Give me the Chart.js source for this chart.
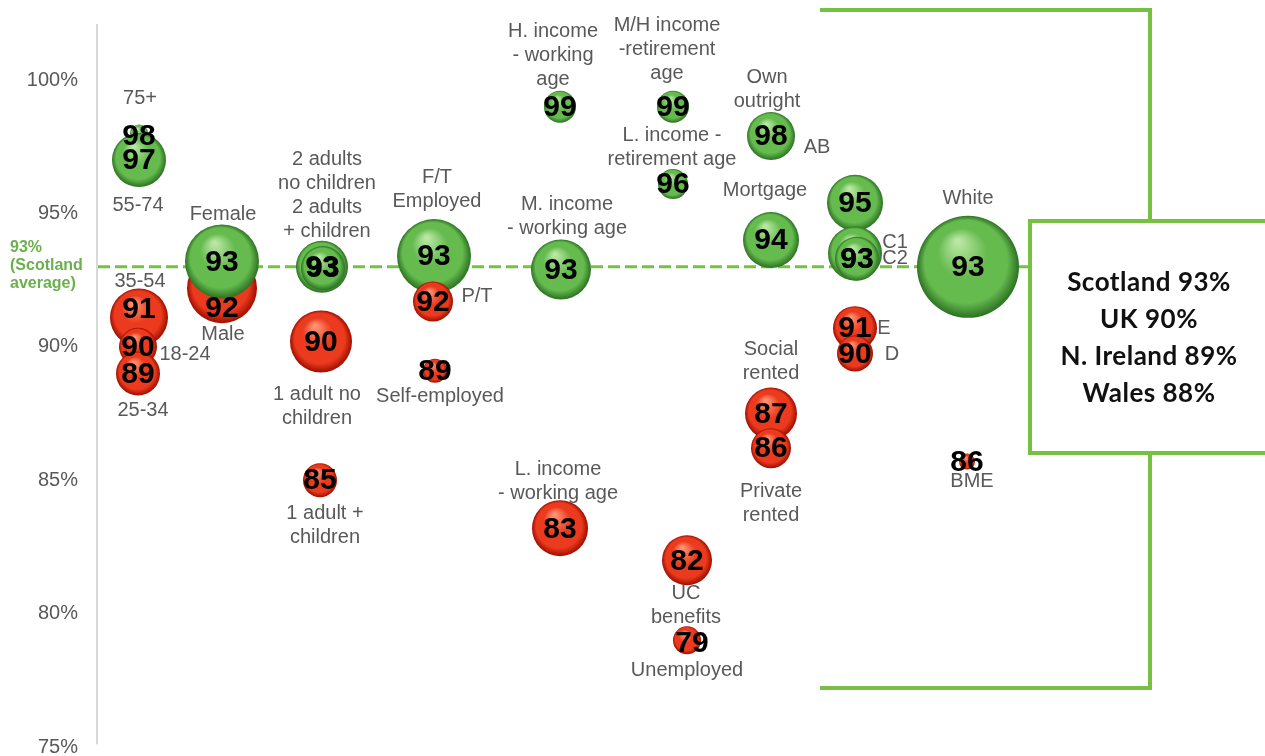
<!DOCTYPE html>
<html>
<head>
<meta charset="utf-8">
<script src="https://cdn.jsdelivr.net/npm/chart.js@4.4.1/dist/chart.umd.min.js"></script>
<style>
  html, body { margin: 0; padding: 0; background: #fff; }
  #wrap { width: 1265px; height: 756px; position: relative; }
</style>
</head>
<body>
<div id="wrap"><canvas id="chart"></canvas></div>
<script>
// values
const scotlandAverage = 93;
const tickValues = [75, 80, 85, 90, 95, 100];

const groups = [
  '75+', '55-74', '35-54', '18-24', '25-34', 'Male', 'Female',
  '2 adults no children', '2 adults + children', '1 adult no children', '1 adult + children',
  'F/T Employed', 'P/T', 'Self-employed',
  'H. income - working age', 'M. income - working age', 'L. income - working age',
  'M/H income -retirement age', 'L. income - retirement age', 'UC benefits', 'Unemployed',
  'Own outright', 'Mortgage', 'Social rented', 'Private rented',
  'AB', 'C1', 'C2', 'E', 'D', 'White', 'BME'
];
// horizontal slot of each bubble
const xPos = [
  0.42, 0.42, 0.42, 0.41, 0.41, 1.25, 1.25,
  2.25, 2.26, 2.24, 2.23,
  3.37, 3.36, 3.38,
  4.63, 4.64, 4.63,
  5.76, 5.76, 5.90, 5.90,
  6.74, 6.74, 6.74, 6.74,
  7.58, 7.58, 7.60, 7.58, 7.58, 8.71, 8.70
];
// where each bubble sits on the % axis
const yPos = [
  98, 97, 91.1, 90, 89, 92.2, 93.2,
  93, 92.95, 90.2, 85,
  93.4, 91.7, 89.1,
  99, 92.9, 83.2,
  99, 96.1, 82, 79,
  97.9, 94, 87.5, 86.2,
  95.4, 93.5, 93.3, 90.7, 89.75, 93, 85.7
];
// bubble size (sample size, px radius)
const sizes = [
  9, 27, 29, 19, 22, 35, 37,
  26, 22, 31, 17,
  37, 20, 12,
  16, 30, 28,
  16, 15, 25, 14,
  24, 28, 26, 20,
  28, 27, 22, 22, 18, 51, 8
];
// printed percentages
const shown = [
  98, 97, 91, 90, 89, 92, 93,
  93, 93, 90, 85,
  93, 92, 89,
  99, 93, 83,
  99, 96, 82, 79,
  98, 94, 87, 86,
  95, 93, 93, 91, 90, 93, 86
];
const pointLabels = [
  ['75+'], ['55-74'], ['35-54'], ['18-24'], ['25-34'], ['Male'], ['Female'],
  ['2 adults', 'no children', '2 adults', '+ children'], [], ['1 adult no', 'children'], ['1 adult +', 'children'],
  ['F/T', 'Employed'], ['P/T'], ['Self-employed'],
  ['H. income', '- working', 'age'], ['M. income', '- working age'], ['L. income', '- working age'],
  ['M/H income', '-retirement', 'age'], ['L. income -', 'retirement age'], ['UC', 'benefits'], ['Unemployed'],
  ['Own', 'outright'], ['Mortgage'], ['Social', 'rented'], ['Private', 'rented'],
  ['AB'], ['C1'], ['C2'], ['E'], ['D'], ['White'], ['BME']
];
const comparison = ['Scotland 93%', 'UK 90%', 'N. Ireland 89%', 'Wales 88%'];

// label placement, px from bubble centre (first line)
const labelOffsets = [
  [1, -35], [-1, 45], [1, -36], [47, 8], [5, 37], [1, 46], [1, -47],
  [5, -107], [0, 0], [-4, 53], [5, 33],
  [3, -79], [44, -5], [5, 26],
  [-7, -75], [6, -65], [-2, -59],
  [-6, -81], [-1, -49], [-1, 33], [0, 30],
  [-4, -59], [-6, -50], [0, -64], [0, 43],
  [-38, -55], [40, -11], [38, 0], [29, 0], [37, 1], [0, -68], [5, 20]
];
const numberNudge = { 0: [0, 2], 2: [0, -9], 5: [0, 20], 20: [5, 2], 26: [2, 5] };

const GREEN = ['#b9e6a3', '#66bb4f', '#2c7222'];
const RED = ['#ff9272', '#ec3a1e', '#9e0e00'];
const LINE_GREEN = '#76c043';
const TEXT_GREY = '#595959';

const points = groups.map((g, i) => ({ x: xPos[i], y: yPos[i], r: sizes[i] }));

function ballFill(ctx) {
  const raw = ctx.raw;
  const chart = ctx.chart;
  const c = raw && shown[ctx.dataIndex] < scotlandAverage ? RED : GREEN;
  if (!raw || !chart.scales.x || !chart.scales.y) return c[1];
  const px = chart.scales.x.getPixelForValue(raw.x);
  const py = chart.scales.y.getPixelForValue(raw.y);
  const r = raw.r;
  if (!Number.isFinite(px) || !Number.isFinite(py)) return c[1];
  const g = chart.ctx.createRadialGradient(px - r * 0.2, py - r * 0.5, r * 0.05, px, py, r);
  g.addColorStop(0, c[0]);
  g.addColorStop(0.45, c[1]);
  g.addColorStop(0.8, c[1]);
  g.addColorStop(1, c[2]);
  return g;
}

const overlay = {
  id: 'overlay',
  beforeDatasetsDraw(chart) {
    const { ctx, chartArea, scales: { y } } = chart;
    const avgY = y.getPixelForValue(scotlandAverage);
    ctx.save();
    // axis line
    ctx.strokeStyle = '#d9d9d9';
    ctx.lineWidth = 2;
    ctx.beginPath();
    ctx.moveTo(chartArea.left, y.getPixelForValue(102.1));
    ctx.lineTo(chartArea.left, y.getPixelForValue(75.1));
    ctx.stroke();
    // Scotland average
    ctx.strokeStyle = LINE_GREEN;
    ctx.lineWidth = 3;
    ctx.setLineDash([12, 5]);
    ctx.beginPath();
    ctx.moveTo(chartArea.left + 1, avgY);
    ctx.lineTo(chartArea.right, avgY);
    ctx.stroke();
    ctx.setLineDash([]);
    ctx.fillStyle = '#6ab04c';
    ctx.font = 'bold 16px "Liberation Sans", Arial, sans-serif';
    ctx.textAlign = 'left';
    ctx.textBaseline = 'middle';
    ['93%', '(Scotland', 'average)'].forEach((t, i) => ctx.fillText(t, 10, avgY - 19 + i * 18));
    ctx.restore();
  },
  afterDatasetsDraw(chart) {
    const { ctx } = chart;
    const els = chart.getDatasetMeta(0).data;
    ctx.save();
    ctx.textAlign = 'center';
    ctx.textBaseline = 'middle';
    // category labels
    ctx.fillStyle = TEXT_GREY;
    ctx.font = '20px "Liberation Sans", Arial, sans-serif';
    els.forEach((el, i) => {
      const [dx, dy] = labelOffsets[i];
      pointLabels[i].forEach((t, k) => ctx.fillText(t, el.x + dx, el.y + dy + k * 24));
    });
    // printed values
    ctx.fillStyle = '#000';
    ctx.font = 'bold 30px "Liberation Sans", Arial, sans-serif';
    els.forEach((el, i) => {
      const [nx, ny] = numberNudge[i] || [0, 0];
      ctx.fillText(String(shown[i]), el.x + nx, el.y + ny + 1);
    });

    // bracket and comparison box
    ctx.strokeStyle = LINE_GREEN;
    ctx.lineWidth = 4;
    ctx.beginPath();
    ctx.moveTo(820, 10);
    ctx.lineTo(1150, 10);
    ctx.lineTo(1150, 221);
    ctx.moveTo(1150, 453);
    ctx.lineTo(1150, 688);
    ctx.lineTo(820, 688);
    ctx.stroke();
    ctx.fillStyle = '#fff';
    ctx.fillRect(1030, 221, 240, 232);
    ctx.strokeRect(1030, 221, 240, 232);
    ctx.fillStyle = '#111';
    ctx.font = 'bold 26px Lato, "Open Sans", sans-serif';
    ctx.letterSpacing = '0.5px';
    comparison.forEach((t, i) => ctx.fillText(t, 1149, 283 + i * 37));
    ctx.restore();
  }
};

new Chart(document.getElementById('chart'), {
  type: 'bubble',
  data: {
    labels: groups,
    datasets: [{
      data: points,
      backgroundColor: ballFill,
      borderWidth: 0,
      hoverRadius: 0,
      hoverBorderWidth: 0,
      clip: false
    }]
  },
  options: {
    responsive: true,
    maintainAspectRatio: false,
    animation: false,
    events: [],
    layout: { padding: 0, autoPadding: false },
    plugins: { legend: { display: false }, tooltip: { enabled: false } },
    scales: {
      x: { type: 'linear', display: false, min: 0, max: 11.68 },
      y: {
        type: 'linear',
        min: 74.663,
        max: 103.0,
        afterBuildTicks: (s) => { s.ticks = tickValues.map((v) => ({ value: v })); },
        afterFit: (s) => { s.width = 97; s.paddingTop = 0; s.paddingBottom = 0; },
        grid: { display: false, drawTicks: false },
        border: { display: false },
        ticks: {
          padding: 19,
          color: TEXT_GREY,
          font: { size: 20, family: '"Liberation Sans", Arial, sans-serif' },
          callback: (v) => v + '%'
        }
      }
    }
  },
  plugins: [overlay]
});
</script>
</body>
</html>
